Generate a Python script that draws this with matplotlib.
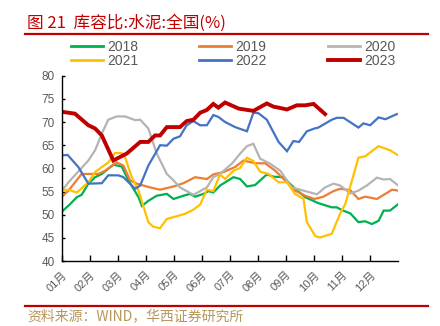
import numpy as np
import matplotlib
matplotlib.use("Agg")
import matplotlib.pyplot as plt
from matplotlib.lines import Line2D

plt.rcParams['font.family'] = ['Liberation Sans', 'Noto Sans CJK SC', 'DejaVu Sans']

# ---------------------------------------------------------------------------
# Data (x in months from Jan 1)
# ---------------------------------------------------------------------------
x_2018 = [0, 0.29, 0.53, 0.70, 0.94, 1.18, 1.42, 1.83, 2.13, 2.37, 2.73, 2.85, 3.08, 3.38,
          3.74, 3.98, 4.33, 4.57, 4.75, 5.05, 5.23, 5.40, 5.64, 6.12, 6.36, 6.60, 6.89, 7.31,
          7.55, 7.90, 8.32, 8.68, 9.15, 9.63, 9.81, 9.99, 10.29, 10.58, 10.82, 11.06, 11.30,
          11.48, 11.71, 12.0]
y_2018 = [50.7, 52.3, 53.8, 54.3, 56.7, 58.1, 58.8, 60.8, 60.4, 57.4, 53.8, 51.9, 53.0, 54.1,
          54.5, 53.4, 54.1, 54.5, 53.9, 54.5, 55.1, 54.8, 56.3, 58.1, 57.7, 56.1, 56.4, 58.7,
          58.2, 58.1, 55.6, 53.8, 52.5, 51.6, 51.6, 51.0, 50.3, 48.4, 48.6, 48.0, 48.7,
          50.9, 50.9, 52.3]

x_2019 = [0, 0.23, 0.70, 1.30, 1.54, 1.95, 2.19, 2.43, 2.67, 3.14, 3.50, 3.98, 4.33, 4.75,
          5.17, 5.40, 5.76, 6.18, 6.48, 6.89, 7.25, 7.61, 7.96, 8.32, 8.68, 9.01, 9.33, 9.69,
          9.93, 10.29, 10.58, 10.82, 11.24, 11.54, 11.78, 12.0]
y_2019 = [53.9, 55.2, 58.8, 58.8, 59.5, 61.3, 60.6, 57.4, 56.7, 55.9, 55.4, 56.1, 56.8, 58.1,
          57.7, 58.7, 59.2, 60.3, 61.7, 61.1, 61.1, 59.5, 57.4, 55.2, 54.1, 53.4, 53.9, 55.1,
          55.6, 55.3, 53.4, 53.9, 53.4, 54.5, 55.4, 55.2]

x_2020 = [0, 0.23, 0.94, 1.18, 1.42, 1.65, 1.95, 2.25, 2.61, 2.79, 3.08, 3.38, 3.74, 3.98,
          4.21, 4.69, 5.17, 5.40, 5.64, 6.06, 6.36, 6.60, 6.83, 7.07, 7.43, 7.79, 8.20, 8.62,
          9.10, 9.39, 9.69, 9.93, 10.29, 10.58, 10.88, 11.24, 11.48, 11.71, 12.0]
y_2020 = [55.2, 57.0, 61.7, 63.9, 67.5, 70.5, 71.2, 71.2, 70.4, 70.5, 68.6, 63.2, 58.8, 57.4,
          55.9, 54.3, 55.9, 58.1, 58.8, 61.0, 63.2, 64.8, 65.3, 62.1, 61.0, 59.5, 55.9, 55.2,
          54.4, 55.9, 56.7, 56.3, 54.6, 55.2, 56.3, 58.0, 57.6, 57.7, 56.3]

x_2021 = [0, 0.23, 0.53, 0.94, 1.18, 1.65, 1.89, 2.13, 2.25, 2.49, 2.73, 3.08, 3.26, 3.50,
          3.74, 4.04, 4.39, 4.69, 4.93, 5.17, 5.40, 5.64, 5.82, 6.12, 6.36, 6.60, 6.83, 7.07,
          7.37, 7.73, 8.03, 8.32, 8.62, 8.74, 9.04, 9.21, 9.63, 9.93, 10.11, 10.58, 10.82,
          11.30, 11.71, 12.0]
y_2021 = [55.2, 55.4, 54.8, 57.0, 59.2, 61.3, 63.3, 63.3, 62.4, 58.1, 55.2, 48.4, 47.4, 47.1,
          49.1, 49.6, 50.2, 51.1, 52.2, 55.4, 55.1, 58.7, 57.7, 59.5, 60.1, 62.3, 61.6, 59.3,
          58.8, 57.0, 57.0, 54.5, 53.4, 48.4, 45.4, 45.1, 45.9, 50.3, 52.3, 62.3, 62.6,
          64.8, 63.9, 62.8]

x_2022 = [0, 0.20, 0.58, 0.94, 1.42, 1.65, 2.01, 2.19, 2.61, 2.79, 3.08, 3.50, 3.74, 3.98,
          4.21, 4.45, 4.69, 4.93, 5.17, 5.40, 5.58, 5.82, 6.18, 6.60, 6.83, 7.01, 7.31, 7.73,
          8.03, 8.26, 8.46, 8.74, 9.01, 9.15, 9.63, 9.81, 10.05, 10.58, 10.76, 11.0, 11.30,
          11.54, 11.95]
y_2022 = [62.8, 62.9, 60.3, 56.7, 56.8, 58.5, 58.5, 58.1, 55.6, 56.3, 60.6, 65.0, 64.9, 66.4,
          66.9, 69.3, 70.2, 69.3, 69.3, 71.5, 71.1, 70.0, 68.9, 68.0, 72.0, 71.9, 70.5, 65.7,
          63.7, 65.9, 65.7, 68.0, 68.6, 68.8, 70.5, 70.9, 70.9, 68.8, 69.7, 69.3, 71.0,
          70.6, 71.7]

x_2023 = [0, 0.46, 0.94, 1.18, 1.42, 1.83, 2.31, 2.79, 3.08, 3.32, 3.50, 3.74, 4.21, 4.45,
          4.69, 4.93, 5.17, 5.40, 5.58, 5.82, 6.30, 6.83, 7.31, 7.55, 7.73, 8.03, 8.38, 8.68,
          8.98, 9.39]
y_2023 = [72.2, 71.8, 69.3, 68.6, 67.1, 61.7, 63.2, 65.7, 65.7, 67.1, 67.1, 68.9, 68.9, 70.2,
          70.5, 72.0, 72.6, 73.9, 73.1, 74.2, 72.9, 72.4, 74.0, 73.3, 73.1, 72.7, 73.6, 73.6,
          73.9, 71.7]

month_labels = ["01月", "02月", "03月", "04月", "05月", "06月",
                "07月", "08月", "09月", "10月", "11月", "12月"]
y_ticks = [40, 45, 50, 55, 60, 65, 70, 75, 80]

# ---------------------------------------------------------------------------
# Style
# ---------------------------------------------------------------------------
TXT_GRAY = "#595959"
RED = "#c00000"
series = [
    ("2018", x_2018, y_2018, "#00b050", 1.6),
    ("2019", x_2019, y_2019, "#ed7d31", 1.6),
    ("2020", x_2020, y_2020, "#b4b4b4", 1.6),
    ("2021", x_2021, y_2021, "#ffc000", 1.6),
    ("2022", x_2022, y_2022, "#4472c4", 1.6),
    ("2023", x_2023, y_2023, "#c00000", 2.8),
]

fig = plt.figure(figsize=(4.4, 3.26), dpi=100, facecolor="white")
ax = fig.add_axes([0.141, 0.199, 0.764, 0.569])

for name, xs, ys, col, lw in series:
    ax.plot(xs, ys, color=col, lw=lw, solid_joinstyle="miter")

ax.set_xlim(0, 12)
ax.set_ylim(40, 80)
ax.set_yticks(y_ticks)
ax.set_yticklabels([str(v) for v in y_ticks], color=TXT_GRAY, fontsize=8.5)
ax.set_xticks(np.arange(12))
ax.set_xticklabels(month_labels, rotation=45, ha="right", rotation_mode="anchor",
                   color=TXT_GRAY, fontsize=8)
ax.tick_params(axis="x", direction="in", length=4, pad=6, width=1)
ax.tick_params(axis="y", direction="in", length=2, pad=5, width=1)
for s in ["top", "right"]:
    ax.spines[s].set_visible(False)
ax.spines["left"].set_linewidth(1.0)
ax.spines["bottom"].set_linewidth(1.0)

# legend: rows of three, matplotlib fills by column so reorder
order = [0, 3, 1, 4, 2, 5]
handles = [Line2D([], [], color=series[i][3], lw=(2.0 if i != 5 else 2.8)) for i in order]
labels = [series[i][0] for i in order]
leg = fig.legend(handles, labels, ncol=3, loc="upper left",
                 bbox_to_anchor=(0.145, 0.898), frameon=False, fontsize=10,
                 handlelength=2.3, handletextpad=0.3, columnspacing=4.4,
                 labelspacing=-0.05, borderpad=0)
for t in leg.get_texts():
    t.set_color(TXT_GRAY)

# title, rules and source
fig.text(0.062, 0.93, "图 21  库容比:水泥:全国(%)", color=RED, fontsize=12,
         family=["Noto Sans CJK SC"], va="center")
fig.add_artist(Line2D([0.057, 0.973], [0.897, 0.897], color=RED, lw=1.6))
fig.add_artist(Line2D([0.057, 0.973], [0.062, 0.062], color=RED, lw=1.6))
fig.text(0.062, 0.030, "资料来源：WIND，华西证券研究所", color="#b8955a", fontsize=10,
         family=["Noto Sans CJK SC"], va="center")

fig.savefig("out.png", dpi=100, facecolor="white")
